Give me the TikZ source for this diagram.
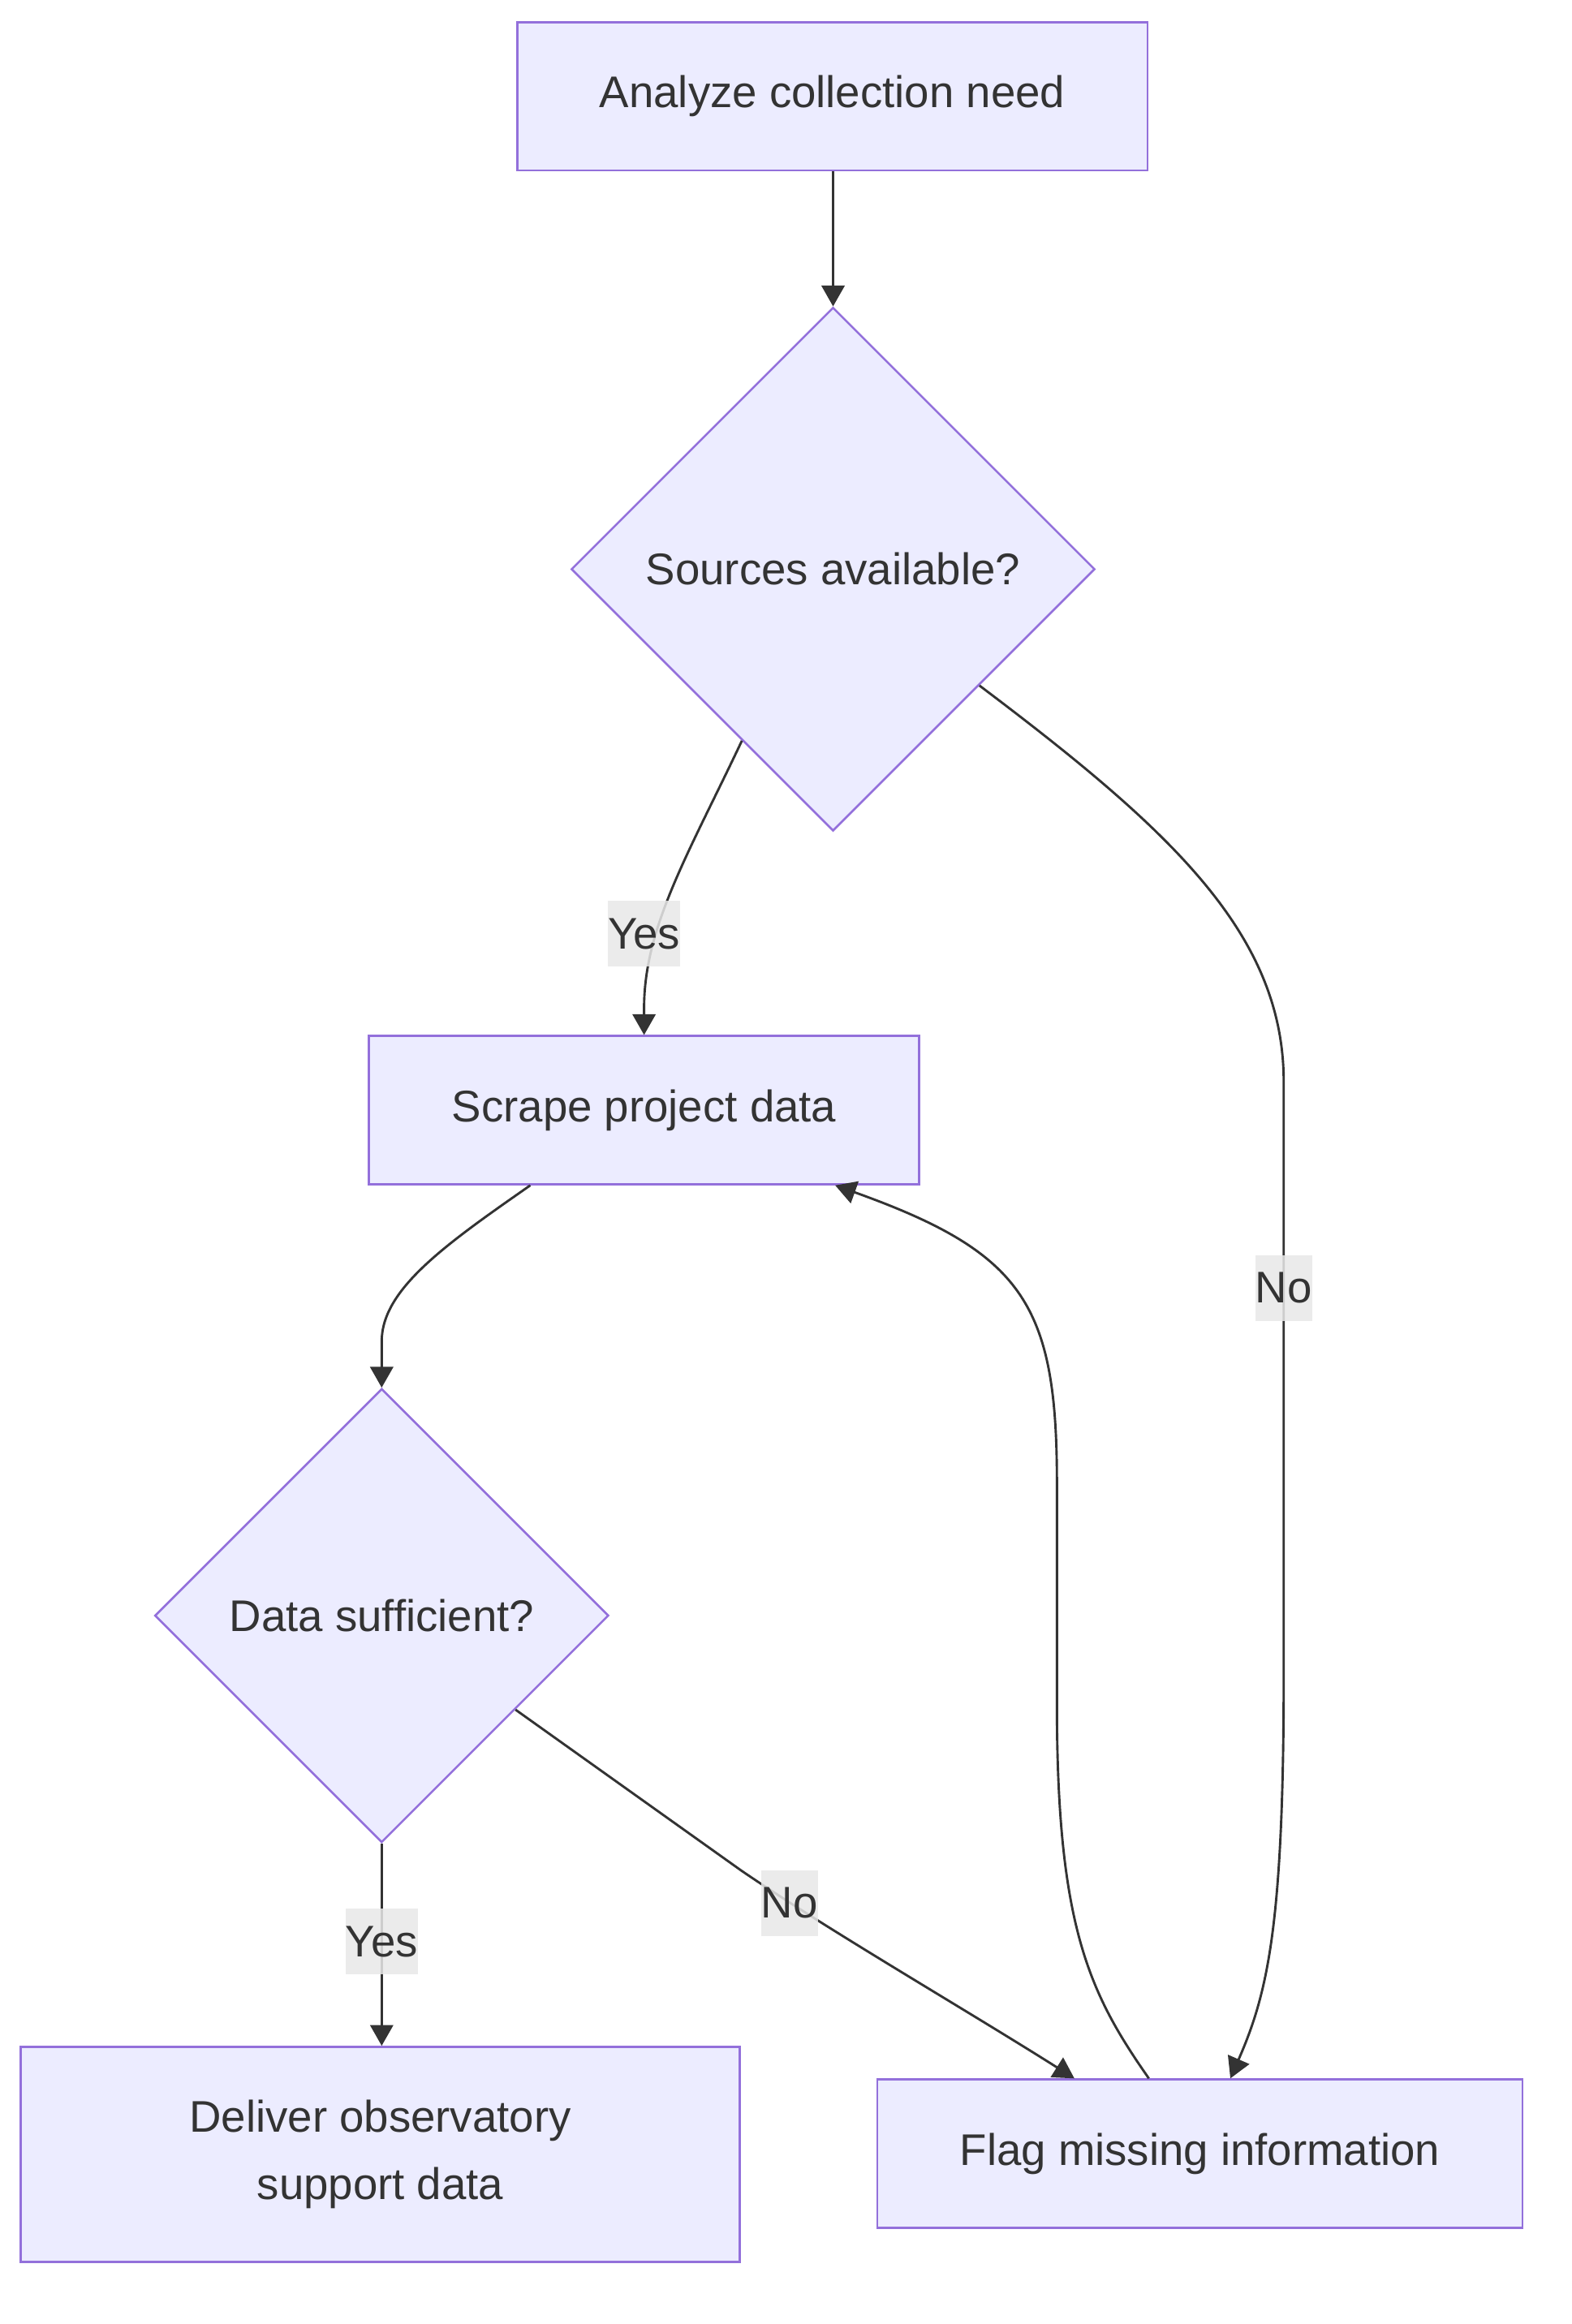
\documentclass[tikz,border=0pt]{standalone}
\usepackage{fontspec}
\setmainfont{Liberation Sans}
\usepackage{xcolor}
\usepackage{tikz}
\usetikzlibrary{arrows.meta,shapes.geometric,calc}

\definecolor{nodefill}{HTML}{ECECFF}
\definecolor{nodeline}{HTML}{9370DB}
\definecolor{inkgray}{HTML}{333333}
\definecolor{labelbg}{HTML}{E8E8E8}

\begin{document}
\begin{tikzpicture}[x=0.01cm, y=-0.01cm, >={Triangle[length=0.14cm,width=0.155cm]},
  font=\fontsize{8.5}{12.8}\selectfont,
  proc/.style={rectangle, draw=nodeline, fill=nodefill, line width=0.4pt, text=inkgray, minimum height=1cm, inner sep=0pt},
  decide/.style={diamond, aspect=1, draw=nodeline, fill=nodefill, line width=0.4pt, text=inkgray, inner sep=0pt},
  flow/.style={->, draw=inkgray, line width=0.45pt},
  tag/.style={fill=labelbg, fill opacity=0.85, text opacity=1, text=inkgray, inner xsep=0pt, inner ysep=0pt, minimum height=0.445cm}]
\useasboundingbox (0,0) rectangle (1060,1568);

% Steps and decisions
\node[proc, minimum width=4.25cm] (need) at (561.5,65) {Analyze collection need};
\node[decide, minimum width=3.53cm, minimum height=3.53cm] (avail) at (562,384) {Sources available?};
\node[proc, minimum width=3.71cm] (scrape) at (434.5,749) {Scrape project data};
\node[decide, minimum width=3.06cm, minimum height=3.06cm] (enough) at (257.5,1090) {Data sufficient?};
\node[proc, minimum width=4.85cm, minimum height=1.45cm, align=center] (deliver) at (256.5,1453.5) {Deliver observatory\\support data};
\node[proc, minimum width=4.35cm] (flag) at (809.5,1453) {Flag missing information};

% Ports on the borders
\coordinate (availYes) at ($(avail.west)!0.653!(avail.south)$);
\coordinate (availNo) at ($(avail.east)!0.443!(avail.south)$);
\coordinate (enoughNo) at ($(enough.east)!0.413!(enough.south)$);
\coordinate (scrapeOut) at ($(scrape.south west)!0.294!(scrape.south east)$);
\coordinate (scrapeIn) at ($(scrape.south west)!0.846!(scrape.south east)$);
\coordinate (flagInL) at ($(flag.north west)!0.306!(flag.north east)$);
\coordinate (flagOut) at ($(flag.north west)!0.421!(flag.north east)$);
\coordinate (flagInR) at ($(flag.north west)!0.547!(flag.north east)$);

% Connectors
\draw[flow] (avail.north |- need.south) -- (avail.north);
\draw[flow] (availYes) .. controls (465,575) and (434.5,625) .. (434.5,680) -- (scrape.north);
\draw[flow] (availNo) .. controls (790,560) and (866,630) .. (866,730) -- (866,1130) .. controls (866,1300) and (855,1345) .. (flagInR);
\draw[flow] (scrapeOut) .. controls (300,840) and (257.5,870) .. (257.5,905) -- (enough.north);
\draw[flow] (enough.south) -- (enough.south |- deliver.north);
\draw[flow] (enoughNo) -- (500,1262) .. controls (560,1303) and (650,1355) .. (flagInL);
\draw[flow] (flagOut) .. controls (735,1345) and (713,1300) .. (713,1150) -- (713,1000) .. controls (713,880) and (690,845) .. (scrapeIn);

% Edge labels
\node[tag] (yesScrape) at (434.5,630) {Yes};
\node[tag] (noFlag) at (866,869) {No};
\node[tag] (yesDeliver) at (257.5,1310) {Yes};
\node[tag] (noMissing) at (532.5,1284) {No};
\end{tikzpicture}
\end{document}
